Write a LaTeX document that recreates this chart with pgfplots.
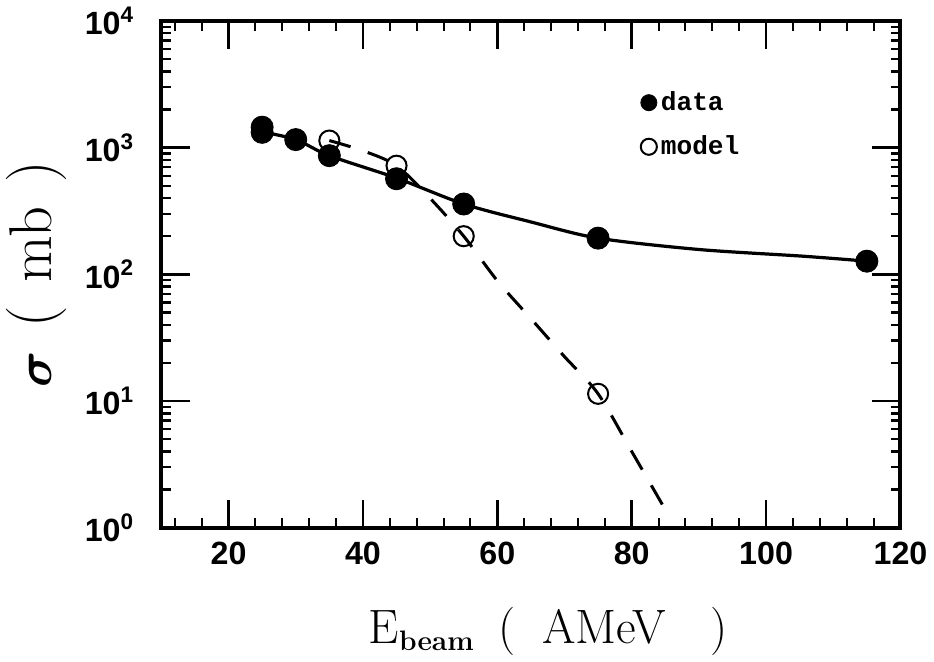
\documentclass[border=0pt]{standalone}
\usepackage{pgfplots}
\pgfplotsset{compat=1.18}
\usepackage{bm}
\usepackage{fontspec}
\setsansfont{Liberation Sans}
\setmonofont{Liberation Mono}
\begin{document}
\begin{tikzpicture}
\begin{axis}[
  scale only axis, width=367.5pt, height=252pt,
  xmin=10, xmax=120, ymode=log, ymin=1, ymax=10000,
  xtick={20,40,60,80,100,120},
  xticklabels={20,40,60,80,100,120},
  minor xtick={12,16,...,116},
  yticklabels={10\textsuperscript{0},10\textsuperscript{1},10\textsuperscript{2},10\textsuperscript{3},10\textsuperscript{4}},
  extra y ticks={2,3,4,5,6,7,8,9,20,30,40,50,60,70,80,90,200,300,400,500,600,700,800,900,2000,3000,4000,5000,6000,7000,8000,9000},
  extra y tick labels={},
  extra y tick style={major tick length=4.8pt},
  x tick label style={font=\fontsize{16}{16}\selectfont\sffamily\bfseries, yshift=-3.7pt},
  y tick label style={font=\fontsize{16}{16}\selectfont\sffamily\bfseries, xshift=-10pt},
  axis line style={line width=2pt},
  major tick style={line width=1.2pt, black},
  minor tick style={line width=1pt, black},
  major tick length=14pt, minor tick length=4.8pt,
  tick align=inside,
  xlabel={E$_{\mbox{\fontsize{14}{14}\selectfont\bfseries beam}}$\hspace{12pt}(\hspace{13pt}AMeV\hspace{22pt})},
  xlabel style={font=\fontsize{24}{24}\selectfont, yshift=-14pt, xshift=8.5pt},
  ylabel={$\bm{\sigma}$\hspace{12pt}(\hspace{12pt}mb\hspace{12pt})},
  ylabel style={font=\fontsize{30}{30}\selectfont, yshift=2pt},
  legend style={draw=none, fill=none, at={(0.64,0.877)}, anchor=north west, row sep=7pt,
    font=\fontsize{13}{13}\selectfont\ttfamily\bfseries},
  legend image post style={mark size=4pt},
  legend cell align=left,
  reverse legend,
]
\addplot[black, line width=1.6pt, smooth, forget plot] coordinates {
  (25,1330) (30,1157) (35,864) (45,575) (55,359) (65,259) (75,193) (90,157) (105.5,139) (115,127)
};
\addplot[black, line width=1.5pt, dash pattern=on 11pt off 9pt, smooth, forget plot] coordinates {
  (35,1137) (40,944) (45,720) (50,398) (55,200) (60,89) (65,44.7) (70,22.4) (75,11.4) (80,4.0) (85.1,1.36)
};
\addplot[black, only marks, mark=o, mark size=5pt, line width=1pt] coordinates {
  (35,1137) (45,720) (55,200) (75,11.4)
};
\addlegendentry{model}
\addplot[black, only marks, mark=*, mark size=5.5pt] coordinates {
  (25,1450) (25,1320) (30,1157) (35,864) (45,568) (55,359) (75,193) (115,127)
};
\addlegendentry{data}
\end{axis}
\end{tikzpicture}
\end{document}
